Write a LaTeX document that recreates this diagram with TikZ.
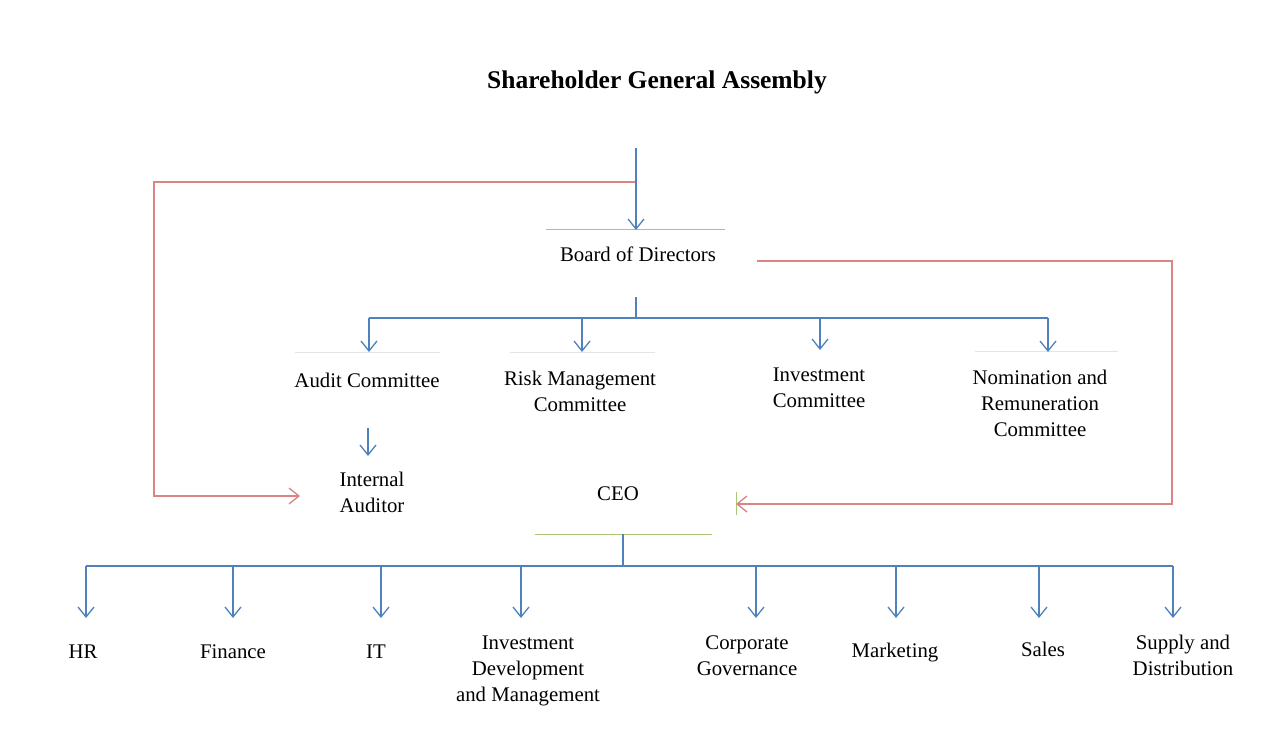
\documentclass[tikz,border=0pt]{standalone}
\usepackage{fontspec}
\setmainfont{Liberation Serif}
\usetikzlibrary{arrows.meta}
\definecolor{cblue}{HTML}{4F81BD}
\definecolor{cred}{HTML}{DA8484}
\definecolor{cgreen}{HTML}{A8C878}
\definecolor{cgrey}{HTML}{E4E4E4}
\tikzset{
  lbl/.style={align=center, font=\fontsize{20.8}{26}\selectfont, inner sep=0pt},
  blueln/.style={draw=cblue, line width=1.3pt},
  bluearr/.style={blueln, -{Straight Barb[length=10pt,width=16pt,line width=1.3pt]}},
  redarr/.style={draw=cred, line width=1.7pt, -{Straight Barb[length=10pt,width=16pt,line width=1.3pt]}},
  topline/.style={draw=cgrey, line width=0.8pt},
  grnline/.style={draw=cgreen, line width=0.9pt}
}
\begin{document}
\begin{tikzpicture}[x=1pt,y=-1pt]
\useasboundingbox[fill=white] (0,0) rectangle (1271,729);
% texts
\node[lbl, font=\fontsize{25.5}{30}\selectfont\bfseries] (sga) at (657,82) {Shareholder General Assembly};
\node[lbl] (bod) at (638,254) {Board of Directors};
\node[lbl] (audit) at (367,380) {Audit Committee};
\node[lbl] (risk) at (580,391) {Risk Management\\Committee};
\node[lbl] (inv) at (819,388) {Investment\\Committee};
\node[lbl] (nom) at (1040,403) {Nomination and\\Remuneration\\Committee};
\node[lbl] (ia) at (372,492) {Internal\\Auditor};
\node[lbl] (ceo) at (618,494) {CEO};
\node[lbl] (hr) at (83,652) {HR};
\node[lbl] (fin) at (233,652) {Finance};
\node[lbl] (it) at (376,652) {IT};
\node[lbl] (idm) at (528,671) {Investment\\Development\\and Management};
\node[lbl] (cg) at (747,656) {Corporate\\Governance};
\node[lbl] (mkt) at (895,653) {Marketing};
\node[lbl] (sales) at (1043,649) {Sales};
\node[lbl] (sd) at (1183,655) {Supply and\\Distribution};
% coordinates
\coordinate (sgaB) at (636,148);
\coordinate (bodT) at (636,230);
\coordinate (redL) at (636,182);
\coordinate (iaL) at (300,496);
\coordinate (bodR) at (757,261);
\coordinate (ceoR) at (736,504);
\coordinate (bodB) at (636,297);
\coordinate (bus1) at (636,318);
\coordinate (auditT) at (369,352);
\coordinate (riskT) at (582,352);
\coordinate (invT) at (820,350);
\coordinate (nomT) at (1048,352);
\coordinate (auditB) at (368,428);
\coordinate (iaT) at (368,456);
\coordinate (ceoB) at (623,534);
\coordinate (bus2) at (623,566);
\coordinate (hrT) at (86,618);
\coordinate (finT) at (233,618);
\coordinate (itT) at (381,618);
\coordinate (idmT) at (521,618);
\coordinate (cgT) at (756,618);
\coordinate (mktT) at (896,618);
\coordinate (salesT) at (1039,618);
\coordinate (sdT) at (1173,618);
% faint box edges
\draw[grnline] (546,229) -- (725,229);
\draw[grnline] (535,534) -- (712,534);
\draw[grnline] (736,492) -- (736,515);
\draw[topline] (295,352) -- (440,352);
\draw[topline] (510,352) -- (655,352);
\draw[topline] (975,351) -- (1118,351);
% red lines
\draw[redarr] (redL) -| (154,496) -- (iaL);
\draw[redarr] (bodR) -| (1172,504) -- (ceoR);
% blue lines
\draw[bluearr] (sgaB) -- (bodT);
\draw[blueln] (bodB) -- (bus1);
\draw[blueln] (auditT |- bus1) -- (nomT |- bus1);
\foreach \t in {auditT,riskT,invT,nomT}
  \draw[bluearr] (\t |- bus1) -- (\t);
\draw[bluearr] (auditB) -- (iaT);
\draw[blueln] (ceoB) -- (bus2);
\draw[blueln] (hrT |- bus2) -- (sdT |- bus2);
\foreach \t in {hrT,finT,itT,idmT,cgT,mktT,salesT,sdT}
  \draw[bluearr] (\t |- bus2) -- (\t);
\end{tikzpicture}
\end{document}
